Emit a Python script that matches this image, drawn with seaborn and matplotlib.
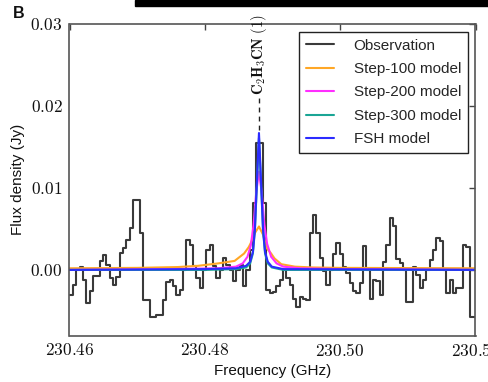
import numpy as np
import pandas as pd
import matplotlib
matplotlib.use("Agg")
import matplotlib.pyplot as plt
from matplotlib.ticker import FuncFormatter, FixedLocator
from matplotlib.patches import Rectangle
import seaborn as sns

# ---------------- data ----------------
obs_start = 230.4600      # GHz, left edge of first channel
obs_chan_width = 0.000493 # GHz
obs_flux = [
    -0.0030, -0.0018, 0.0000, 0.0004, -0.0012, -0.0040, -0.0026, -0.0007, -0.0007, 0.0011,
    0.0018, 0.0006, -0.0010, -0.0018, -0.0009, 0.0021, 0.0027, 0.0037, 0.0051, 0.0085,
    0.0085, 0.0045, -0.0037, -0.0037, -0.0057, -0.0057, -0.0055, -0.0055, -0.0037, -0.0015,
    -0.0012, -0.0020, -0.0030, -0.0024, 0.0000, 0.0037, 0.0030, 0.0005, -0.0010, -0.0022,
    0.0000, 0.0024, 0.0030, 0.0005, -0.0010, 0.0000, 0.0014, 0.0006, 0.0000, -0.0014,
    0.0000, 0.0006, -0.0020, 0.0000, 0.0024, 0.0082, 0.0155, 0.0155, 0.0082, -0.0024,
    -0.0028, -0.0027, -0.0020, -0.0012, 0.0000, -0.0010, -0.0018, -0.0035, -0.0045, -0.0033,
    -0.0035, -0.0037, 0.0045, 0.0067, 0.0045, 0.0014, -0.0001, -0.0018, 0.0000, 0.0020,
    0.0033, 0.0020, 0.0004, -0.0004, -0.0016, -0.0026, -0.0028, -0.0016, 0.0029, 0.0000,
    -0.0035, -0.0012, -0.0014, -0.0030, 0.0010, 0.0030, 0.0063, 0.0053, 0.0013, 0.0008,
    0.0000, -0.0039, -0.0039, 0.0004, -0.0006, -0.0022, -0.0012, 0.0000, 0.0012, 0.0024,
    0.0039, 0.0035, 0.0000, -0.0028, -0.0012, -0.0028, -0.0022, -0.0022, 0.0031, 0.0028,
    -0.0057,
]

step100_freq = [230.4600, 230.4700, 230.4760, 230.4790, 230.4820, 230.4844, 230.4858, 230.4865,
                230.4868, 230.4874, 230.4880, 230.4886, 230.4892, 230.4898, 230.4903, 230.4913,
                230.4933, 230.4960, 230.5000, 230.5210]
step100_flux = [0.00020, 0.00025, 0.00035, 0.00050, 0.00080, 0.00110, 0.00200, 0.00280,
                0.00330, 0.00450, 0.00530, 0.00430, 0.00260, 0.00200, 0.00140, 0.00070,
                0.00040, 0.00030, 0.00025, 0.00020]

step200_freq = [230.4600, 230.4750, 230.4820, 230.4846, 230.4856, 230.4863, 230.4868, 230.4872,
                230.4876, 230.4880, 230.4884, 230.4888, 230.4892, 230.4898, 230.4906, 230.4916,
                230.4941, 230.5000, 230.5210]
step200_flux = [0.0000, 0.0001, 0.0002, 0.0004, 0.0008, 0.0016, 0.0030, 0.0055,
                0.0095, 0.0120, 0.0095, 0.0055, 0.0032, 0.0016, 0.0008, 0.0004,
                0.0002, 0.0001, 0.0000]

step300_freq = [230.4600, 230.4800, 230.4846, 230.4861, 230.4867, 230.4871, 230.4874, 230.4877,
                230.4880, 230.4883, 230.4886, 230.4889, 230.4893, 230.4899, 230.4916, 230.5210]
step300_flux = [0.0000, 0.0000, 0.0001, 0.0003, 0.0008, 0.0020, 0.0048, 0.0106,
                0.0161, 0.0106, 0.0048, 0.0020, 0.0008, 0.0003, 0.0000, 0.0000]

fsh_freq = [230.4600, 230.4800, 230.4846, 230.4861, 230.4867, 230.4871, 230.4874, 230.4877,
            230.4880, 230.4883, 230.4886, 230.4889, 230.4893, 230.4899, 230.4916, 230.5210]
fsh_flux = [0.0000, 0.0001, 0.0002, 0.0005, 0.0010, 0.0022, 0.0050, 0.0110,
            0.0167, 0.0110, 0.0050, 0.0022, 0.0010, 0.0004, 0.0001, 0.0000]

line_center = 230.4880
line_label = r'$\mathbf{C_2H_3CN\ (1)}$'
x_ticks = [230.46, 230.48, 230.50, 230.52]
y_ticks = [0.00, 0.01, 0.02, 0.03]

# ---------------- style ----------------
sns.set_style("white")
plt.rcParams['font.family'] = ['Liberation Sans', 'DejaVu Sans']
plt.rcParams['mathtext.fontset'] = 'cm'

fig = plt.figure(figsize=(4.89, 3.82), dpi=100)
ax = fig.add_axes([69.5 / 489, (382 - 335.5) / 382, 406 / 489, 311.5 / 382])

obs_edges = [obs_start + i * obs_chan_width for i in range(len(obs_flux))] + [230.5210]
obs_df = pd.DataFrame({"freq": obs_edges, "flux": obs_flux + [obs_flux[-1]]})

sns.lineplot(data=obs_df, x="freq", y="flux", ax=ax, color="#3a3a3a", lw=1.5,
             drawstyle="steps-post", estimator=None, sort=False, label="Observation")
sns.lineplot(x=step100_freq, y=step100_flux, ax=ax, color="#FFA726", lw=1.5,
             estimator=None, sort=False, label="Step-100 model")
sns.lineplot(x=step200_freq, y=step200_flux, ax=ax, color="#FF2EFF", lw=1.5,
             estimator=None, sort=False, label="Step-200 model")
sns.lineplot(x=step300_freq, y=step300_flux, ax=ax, color="#1AA595", lw=1.5,
             estimator=None, sort=False, label="Step-300 model")
sns.lineplot(x=fsh_freq, y=fsh_flux, ax=ax, color="#2B2BFF", lw=1.5,
             estimator=None, sort=False, label="FSH model")

# line marker
ax.plot([line_center, line_center], [0.0171, 0.0210], color="#222222", lw=1.0,
        ls=(0, (3.5, 3)))
ax.text(line_center, 0.0213, line_label, rotation=90, ha="center", va="bottom",
        fontsize=10.5, color="#111111")

ax.set_xlim(230.46, 230.52)
ax.set_ylim(-0.008, 0.03)
ax.xaxis.set_major_locator(FixedLocator(x_ticks))
ax.yaxis.set_major_locator(FixedLocator(y_ticks))
ax.xaxis.set_major_formatter(FuncFormatter(lambda v, p: r'$%.2f$' % v))
ax.yaxis.set_major_formatter(FuncFormatter(lambda v, p: r'$%.2f$' % v))
ax.tick_params(direction="in", length=4, width=1, colors="#444444",
               top=True, right=True, labelsize=12.5, labelcolor="#111111", pad=5)
for s in ax.spines.values():
    s.set_color("#555555")
    s.set_linewidth(1.2)

ax.set_xlabel("Frequency (GHz)", fontsize=11, color="#111111", labelpad=3)
ax.set_ylabel("Flux density (Jy)", fontsize=11, color="#111111", labelpad=4)

leg = ax.legend(loc="upper right", fontsize=11, frameon=True, fancybox=False,
                framealpha=1, edgecolor="#222222", borderaxespad=0.5,
                handlelength=1.8, handletextpad=1.3, labelspacing=0.62,
                borderpad=0.45)
leg.get_frame().set_linewidth(1.0)

fig.text(19 / 489, 1 - 14 / 382, "B", fontsize=11.5, fontweight="bold",
         ha="center", va="center", color="#111111")
fig.patches.append(Rectangle((135 / 489, 1 - 6 / 382), 1, 6 / 382,
                             transform=fig.transFigure, color="black", zorder=10))

fig.savefig("out.png", dpi=100)
